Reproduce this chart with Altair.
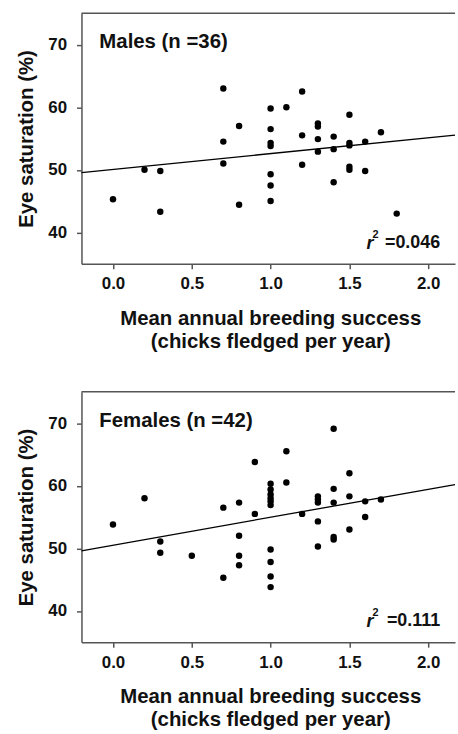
import altair as alt
import pandas as pd

# Males (n = 36)
male_x = [0.0, 0.2, 0.3, 0.3, 0.7, 0.7, 0.7, 0.8, 0.8,
          1.0, 1.0, 1.0, 1.0, 1.0, 1.0, 1.0, 1.1, 1.2, 1.2, 1.2,
          1.3, 1.3, 1.3, 1.3, 1.4, 1.4, 1.4, 1.5, 1.5, 1.5, 1.5, 1.5,
          1.6, 1.6, 1.7, 1.8]
male_y = [45.3, 50.0, 49.8, 43.3, 63.0, 54.5, 51.0, 57.0, 44.4,
          59.8, 56.5, 54.3, 53.8, 49.3, 47.5, 45.0, 60.0, 62.5, 55.5, 50.8,
          57.4, 56.9, 54.9, 52.9, 55.3, 53.3, 48.0, 58.8, 54.3, 53.9, 50.5, 50.0,
          54.5, 49.8, 56.0, 43.0]

# Females (n = 42)
female_x = [0.0, 0.2, 0.3, 0.3, 0.5, 0.7, 0.7, 0.8, 0.8, 0.8, 0.8, 0.9, 0.9,
            1.0, 1.0, 1.0, 1.0, 1.0, 1.0, 1.0, 1.0, 1.0, 1.0,
            1.1, 1.1, 1.2, 1.3, 1.3, 1.3, 1.3, 1.3,
            1.4, 1.4, 1.4, 1.4, 1.4, 1.5, 1.5, 1.5, 1.6, 1.6, 1.7]
female_y = [53.8, 58.0, 51.1, 49.3, 48.8, 56.5, 45.3, 57.3, 52.0, 48.8, 47.3, 63.8, 55.5,
            60.3, 59.4, 58.6, 58.0, 57.5, 56.9, 49.8, 47.8, 45.5, 43.8,
            65.5, 60.5, 55.5, 58.3, 57.8, 57.3, 54.3, 50.3,
            69.1, 59.5, 57.3, 51.8, 51.4, 62.0, 58.3, 53.0, 57.5, 55.0, 57.8]

panel_labels = ["Males (n =36)", "Females (n =42)"]
r2_labels = ["=0.046", "=0.111"]
x_ticks = [0.0, 0.5, 1.0, 1.5, 2.0]
y_ticks = [40, 50, 60, 70]
x_domain = [-0.2, 2.17]
y_domain = [35, 75]

W = 376
H = 252
FONT = "Liberation Sans"
AXIS_COLOR = "#555555"
TEXT_COLOR = "#111111"


def panel(xs, ys, label, r2):
    df = pd.DataFrame({"x": xs, "y": ys})
    xenc = alt.X("x:Q", scale=alt.Scale(domain=x_domain, nice=False, zero=False),
                 axis=alt.Axis(values=x_ticks, format=".1f",
                               title=["Mean annual breeding success", "(chicks fledged per year)"]))
    yenc = alt.Y("y:Q", scale=alt.Scale(domain=y_domain, nice=False, zero=False),
                 axis=alt.Axis(values=y_ticks, title="Eye saturation (%)"))
    base = alt.Chart(df)
    pts = base.mark_circle(size=42, color="black", opacity=1).encode(x=xenc, y=yenc)
    line = base.transform_regression("x", "y", extent=x_domain).mark_line(
        color="black", strokeWidth=1.3).encode(x="x:Q", y="y:Q")

    lab = alt.Chart(pd.DataFrame({"t": [label]})).mark_text(
        align="left", baseline="middle", font=FONT, fontSize=20.5, fontWeight="bold",
        color=TEXT_COLOR).encode(x=alt.value(18), y=alt.value(29), text="t:N")

    r2df = pd.DataFrame({"t": [r2], "r": ["r"], "s": ["2"]})
    r2txt = alt.Chart(r2df).mark_text(
        align="right", baseline="middle", font=FONT, fontSize=18, fontWeight="bold",
        color=TEXT_COLOR).encode(x=alt.value(361), y=alt.value(231), text="t:N")
    rtxt = alt.Chart(r2df).mark_text(
        align="right", baseline="middle", font=FONT, fontSize=18, fontStyle="italic",
        fontWeight="bold", color=TEXT_COLOR).encode(x=alt.value(294), y=alt.value(232), text="r:N")
    stxt = alt.Chart(r2df).mark_text(
        align="left", baseline="middle", font=FONT, fontSize=11, fontWeight="bold",
        color=TEXT_COLOR).encode(x=alt.value(293), y=alt.value(223), text="s:N")

    top_border = alt.Chart(pd.DataFrame({"a": [0]})).mark_rule(
        color=AXIS_COLOR, strokeWidth=1.5).encode(
        x=alt.value(0), x2=alt.value(W), y=alt.value(0))

    return alt.layer(top_border, line, pts, lab, r2txt, rtxt, stxt).properties(width=W, height=H)


top = panel(male_x, male_y, panel_labels[0], r2_labels[0])
bottom = panel(female_x, female_y, panel_labels[1], r2_labels[1])

chart = alt.vconcat(top, bottom, spacing=39).properties(
    padding={"left": 17, "top": 10, "right": 0, "bottom": 0}
).configure_view(stroke=None).configure_axis(
    grid=False,
    labelFont=FONT, labelFontSize=17, labelFontWeight="bold", labelColor=TEXT_COLOR,
    titleFont=FONT, titleFontSize=20.5, titleFontWeight="bold", titleColor=TEXT_COLOR,
    domainColor=AXIS_COLOR, domainWidth=1.5, tickColor=AXIS_COLOR, tickWidth=1.5,
    tickSize=5, titleLineHeight=23,
).configure_axisY(titlePadding=11, labelPadding=10).configure_axisX(
    titlePadding=17, labelPadding=7, titleX=190)

chart.save("out.html", embed_options={"renderer": "svg", "actions": False})
